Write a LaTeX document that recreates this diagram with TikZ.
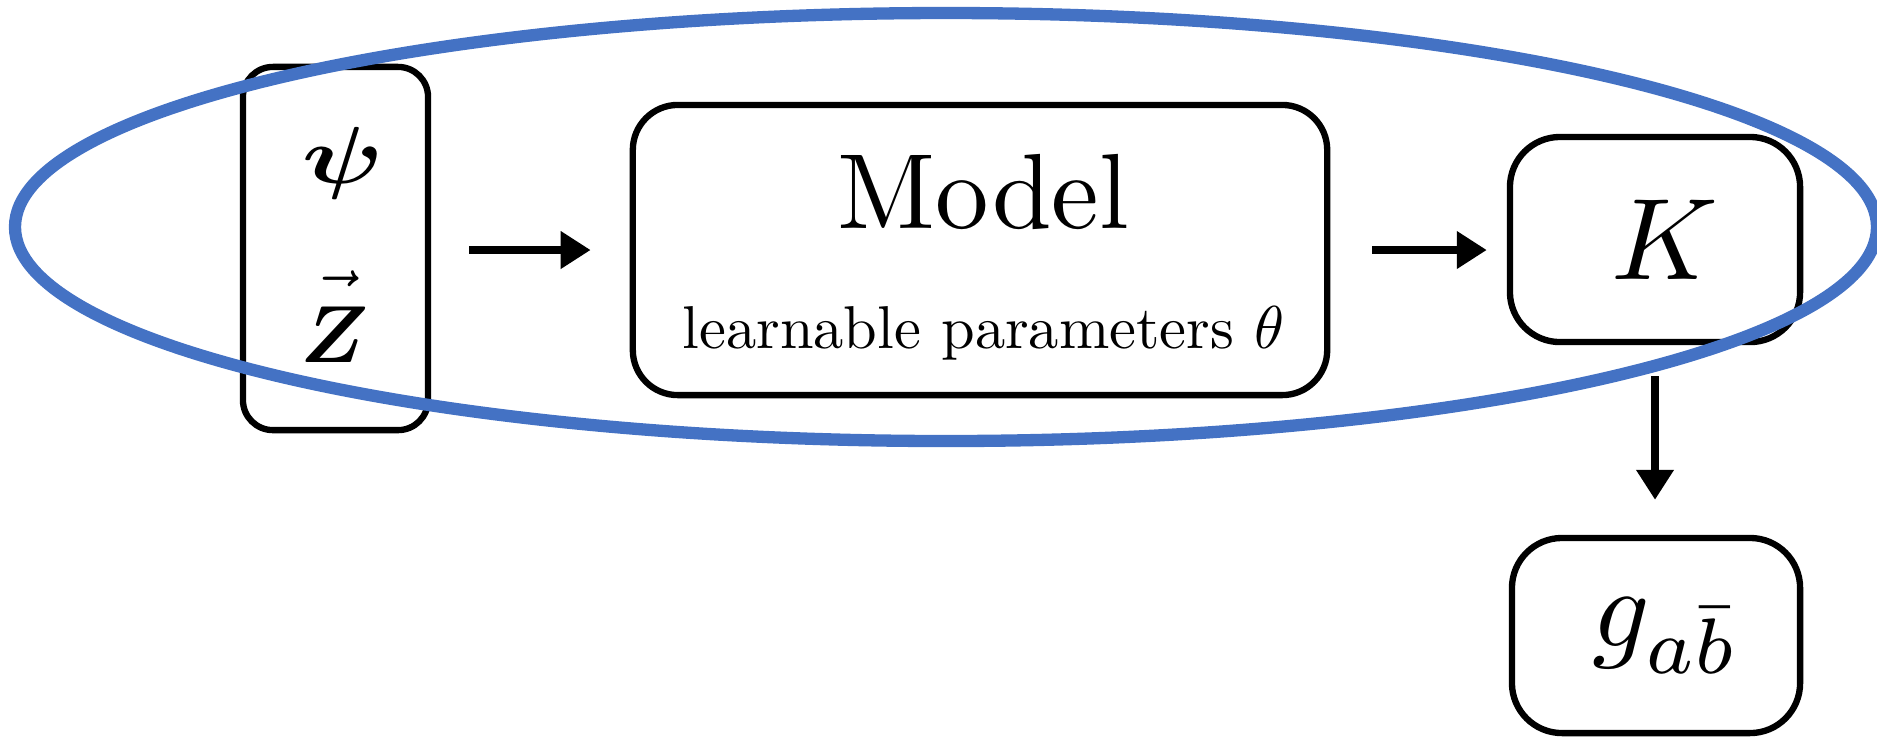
\documentclass[tikz,border=0pt]{standalone}
\usepackage{graphicx}
\usepackage{amsmath}
\usetikzlibrary{arrows.meta}
\definecolor{loopblue}{HTML}{4472C4}

\begin{document}
\begin{tikzpicture}[x=0.01cm, y=-0.01cm,
  box/.style={draw=black, line width=1.8pt, rounded corners=0.3cm, inner sep=0pt},
  link/.style={line width=2.1pt, -{Triangle[length=0.3cm, width=0.36cm]}},
  loopline/.style={draw=loopblue, line width=3.5pt},
  label/.style={anchor=base, inner sep=0pt}]
\useasboundingbox (0,0) rectangle (1877,738);

% boxes
\node[box, minimum width=1.85cm, minimum height=3.63cm] (in) at (335.5,248.5) {};
\node[box, rounded corners=0.45cm, minimum width=6.94cm, minimum height=2.9cm] (model) at (980,250) {};
\node[box, rounded corners=0.5cm, minimum width=2.9cm, minimum height=2.05cm] (K) at (1655,239.5) {\hspace*{0.2cm}\scalebox{3.3}{$K$}};
\node[box, rounded corners=0.5cm, minimum width=2.88cm, minimum height=1.95cm] (g) at (1656,635.5) {\hspace*{0.2cm}\scalebox{3.2}{$g_{a\bar b}$}};

% inputs
\node[label] (psi) at (343,183) {\scalebox{2.9}[2.3]{$\boldsymbol{\psi}$}};
\node[label] (zvec) at (335,362) {\scalebox{2.3}{$\vec{\rule{0pt}{8.5pt}\boldsymbol{Z}}$}};

% model labels
\node[label] (mtitle) at (983.5,228) {\scalebox{3.04}{Model}};
\node[label] (mparams) at (983.5,348) {\scalebox{1.72}{learnable parameters $\theta$}};

% connectors
\draw[link, shorten <=0.38cm, shorten >=0.39cm] (in.east |- model.west) -- (model.west);
\draw[link, shorten <=0.42cm, shorten >=0.2cm] (model.east) -- (model.east -| K.west);
\draw[link, shorten <=0.31cm, shorten >=0.35cm] (K.south) -- (K.south |- g.north);

% grouping loop
\draw[loopline] (946,227) ellipse [x radius=931, y radius=214];
\end{tikzpicture}
\end{document}
